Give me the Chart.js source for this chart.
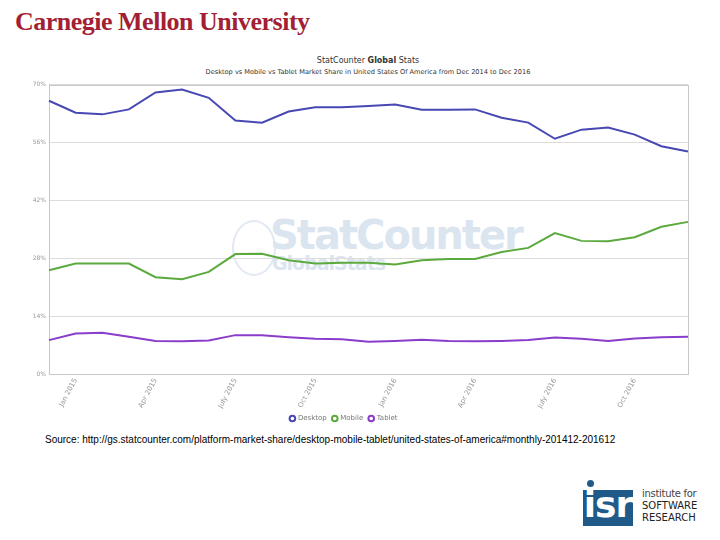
<!DOCTYPE html>
<html>
<head>
<meta charset="utf-8">
<script src="https://cdn.jsdelivr.net/npm/chart.js"></script>
<style>
  body { margin: 0; width: 720px; height: 540px; background: #fff; position: relative; overflow: hidden; }
  .cmu { position: absolute; left: 15px; top: 7px; font-family: "Liberation Serif", serif; font-weight: bold; font-size: 26px; color: #a31f34; letter-spacing: -0.5px; }
  .title { position: absolute; left: 0; width: 736px; top: 56px; text-align: center; font-family: "DejaVu Sans", sans-serif; color: #333; }
  .title .t1 { font-size: 8px; }
  .title .t2 { font-size: 6.6px; margin-top: 3px; }
  .wm { position: absolute; left: 232px; top: 216px; color: #dbe5f0; font-family: "DejaVu Sans", sans-serif; font-weight: bold; }
  .wm .globe { position: absolute; left: 0; top: 4px; width: 40px; height: 52px; border-radius: 50%; border: 2px solid #e2e9f3; }
  .wm .s1 { position: absolute; left: 38px; top: -4px; font-size: 40px; letter-spacing: -2px; white-space: nowrap; }
  .wm .s2 { position: absolute; left: 40px; top: 36px; font-size: 19px; letter-spacing: -1px; white-space: nowrap; }
  #wrap { position: absolute; left: 0; top: 78px; width: 720px; height: 354px; }
  .src { position: absolute; left: 45px; top: 434px; font-family: "Liberation Sans", Arial, sans-serif; font-size: 10px; color: #000; }
  .isr { position: absolute; left: 583px; top: 490px; width: 50px; height: 36px; background: #1f5a89; color: #fff; font-family: "DejaVu Sans", sans-serif; font-weight: bold; font-size: 36px; line-height: 30px; text-align: center; letter-spacing: -1px; }
  .isr-dot { position: absolute; left: 587px; top: 480px; width: 7px; height: 7px; border-radius: 50%; background: #1f5a89; }
  .isr-txt { position: absolute; left: 642px; top: 488px; font-family: "DejaVu Sans", sans-serif; color: #222; font-size: 10px; line-height: 12px; }
  .isr-txt .l1 { font-weight: normal; font-size: 10px; letter-spacing: -0.3px; color: #444; }
</style>
</head>
<body>
<div class="cmu">Carnegie Mellon University</div>
<div class="title">
  <div class="t1">StatCounter <b>Global</b> Stats</div>
  <div class="t2">Desktop vs Mobile vs Tablet Market Share in United States Of America from Dec 2014 to Dec 2016</div>
</div>
<div class="wm"><div class="globe"></div><div class="s1">StatCounter</div><div class="s2">GlobalStats</div></div>
<div id="wrap"><canvas id="visualization"></canvas></div>
<div class="src">Source: http://gs.statcounter.com/platform-market-share/desktop-mobile-tablet/united-states-of-america#monthly-201412-201612</div>
<div class="isr-dot"></div>
<div class="isr">isr</div>
<div class="isr-txt"><div class="l1">institute for</div><div>SOFTWARE</div><div>RESEARCH</div></div>

<script>
// months Dec 2014 .. Dec 2016
const months = ['Dec 2014', 'Jan 2015', 'Feb 2015', 'Mar 2015', 'Apr 2015', 'May 2015', 'June 2015',
    'July 2015', 'Aug 2015', 'Sept 2015', 'Oct 2015', 'Nov 2015', 'Dec 2015',
    'Jan 2016', 'Feb 2016', 'Mar 2016', 'Apr 2016', 'May 2016', 'June 2016',
    'July 2016', 'Aug 2016', 'Sept 2016', 'Oct 2016', 'Nov 2016', 'Dec 2016'];
const tickLabels = ['Jan 2015', 'Apr 2015', 'July 2015', 'Oct 2015', 'Jan 2016', 'Apr 2016', 'July 2016', 'Oct 2016'];

const desktop = [66.1, 63.2, 62.8, 64.0, 68.1, 68.8, 66.8, 61.3, 60.8, 63.5, 64.5, 64.5, 64.8,
    65.2, 63.9, 63.9, 64.0, 62.0, 60.8, 56.9, 59.1, 59.6, 57.9, 55.1, 53.8];
const mobile = [25.1, 26.7, 26.7, 26.7, 23.4, 22.9, 24.7, 29.0, 29.1, 27.5, 26.7, 26.9, 26.9,
    26.5, 27.5, 27.8, 27.8, 29.5, 30.5, 34.1, 32.2, 32.1, 33.1, 35.6, 36.8];
const tablet = [8.2, 9.8, 10.0, 9.0, 8.0, 7.9, 8.1, 9.4, 9.4, 8.9, 8.5, 8.4, 7.8,
    8.0, 8.3, 8.0, 7.9, 8.0, 8.2, 8.8, 8.5, 8.0, 8.6, 8.9, 9.0];

const frame = {
    id: 'frame',
    beforeDatasetsDraw(chart) {
        const a = chart.chartArea, ctx = chart.ctx;
        ctx.save();
        ctx.strokeStyle = '#c8c8c8';
        ctx.lineWidth = 1;
        ctx.strokeRect(Math.round(a.left) + 0.5, Math.round(a.top) + 0.5,
            Math.round(a.right - a.left), Math.round(a.bottom - a.top));
        ctx.restore();
    }
};

function line(label, data, color) {
    return {
        label: label,
        data: data,
        borderColor: color,
        backgroundColor: '#ffffff',
        borderWidth: 2,
        pointRadius: 0,
        pointStyle: 'circle',
        tension: 0,
    };
}

new Chart(document.getElementById('visualization'), {
    type: 'line',
    data: {
        labels: months,
        datasets: [
            line('Desktop', desktop, '#4848b4'),
            line('Mobile', mobile, '#5caa3e'),
            line('Tablet', tablet, '#8a3ccb'),
        ]
    },
    options: {
        responsive: true,
        maintainAspectRatio: false,
        animation: false,
        layout: { padding: { top: 6, right: 32, bottom: 0, left: 0 } },
        scales: {
            x: {
                offset: false,
                grid: { display: false, drawTicks: false },
                border: { color: '#c8c8c8' },
                afterFit(s) { s.height = 35; },
                ticks: {
                    autoSkip: false,
                    minRotation: 62,
                    maxRotation: 62,
                    padding: 3,
                    color: '#999',
                    font: { family: 'DejaVu Sans', size: 7 },
                    callback(v) {
                        const m = months[v];
                        return tickLabels.includes(m) ? m : '';
                    }
                }
            },
            y: {
                min: 0,
                max: 70,
                grid: { color: '#dcdcdc', drawTicks: false },
                border: { color: '#c8c8c8' },
                afterFit(s) { s.width = 49; },
                ticks: {
                    stepSize: 14,
                    padding: 3,
                    color: '#999',
                    font: { family: 'DejaVu Sans', size: 6 },
                    callback: (v) => v + '%'
                }
            }
        },
        plugins: {
            legend: {
                position: 'bottom',
                labels: {
                    usePointStyle: true,
                    boxWidth: 4,
                    boxHeight: 4,
                    padding: 6,
                    color: '#777',
                    font: { family: 'DejaVu Sans', size: 7 }
                }
            },
            tooltip: { enabled: false }
        }
    },
    plugins: [frame]
});
</script>
</body>
</html>
